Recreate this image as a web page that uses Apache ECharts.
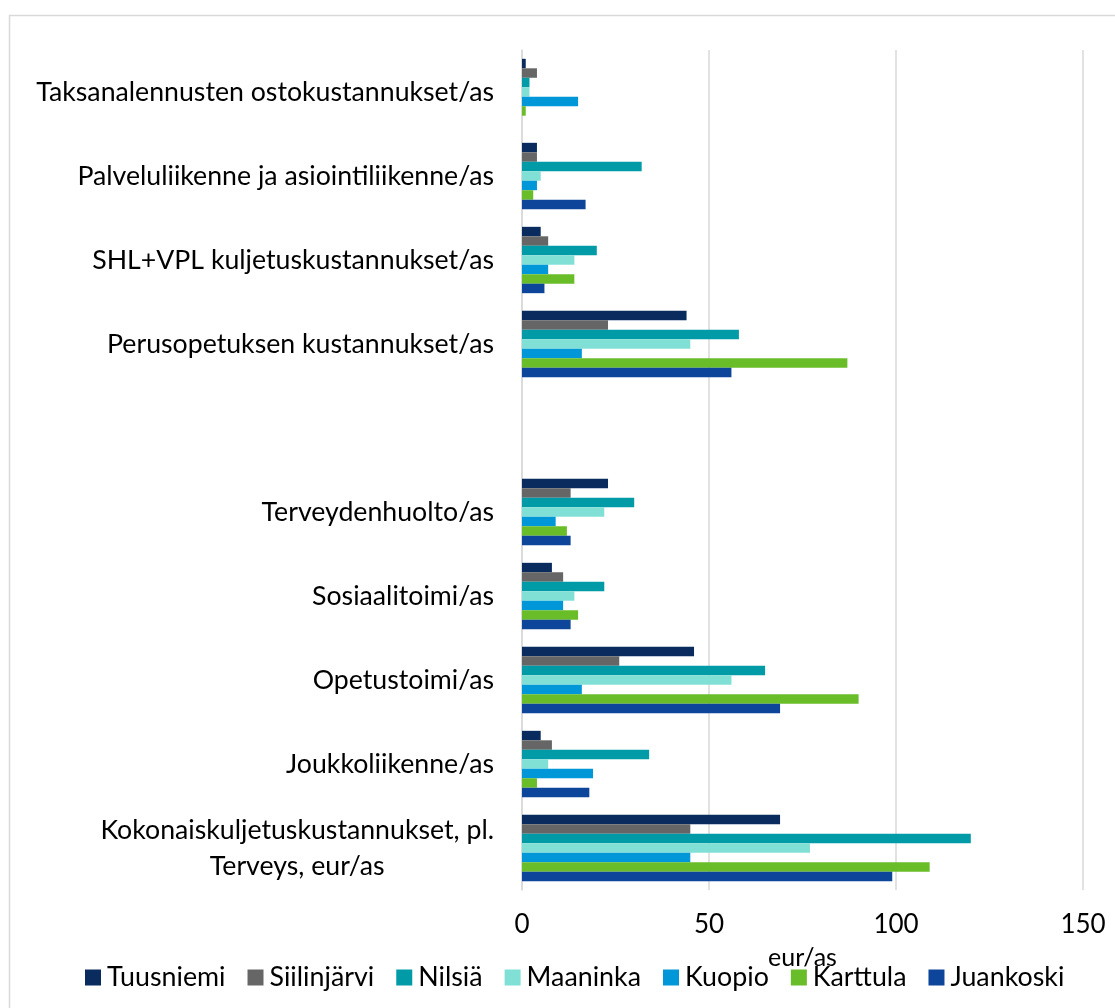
<!DOCTYPE html>
<html>
<head>
<meta charset="utf-8">
<script src="https://cdn.jsdelivr.net/npm/echarts@6/dist/echarts.min.js"></script>
<style>
html,body{margin:0;padding:0;background:#fff;}
#chart{width:1115px;height:1008px;}
</style>
</head>
<body>
<div id="chart"></div>
<script>
// Categories listed top to bottom (as shown in the chart)
const categories = [
  'Taksanalennusten ostokustannukset/as',
  'Palveluliikenne ja asiointiliikenne/as',
  'SHL+VPL kuljetuskustannukset/as',
  'Perusopetuksen kustannukset/as',
  '',
  'Terveydenhuolto/as',
  'Sosiaalitoimi/as',
  'Opetustoimi/as',
  'Joukkoliikenne/as',
  'Kokonaiskuljetuskustannukset, pl.\nTerveys, eur/as'
];
const seriesNames = ['Tuusniemi', 'Siilinjärvi', 'Nilsiä', 'Maaninka', 'Kuopio', 'Karttula', 'Juankoski'];
const tuusniemi   = [1, 4, 5, 44, null, 23, 8, 46, 5, 69];
const siilinjarvi = [4, 4, 7, 23, null, 13, 11, 26, 8, 45];
const nilsia      = [2, 32, 20, 58, null, 30, 22, 65, 34, 120];
const maaninka    = [2, 5, 14, 45, null, 22, 14, 56, 7, 77];
const kuopio      = [15, 4, 7, 16, null, 9, 11, 16, 19, 45];
const karttula    = [1, 3, 14, 87, null, 12, 15, 90, 4, 109];
const juankoski   = [0, 17, 6, 56, null, 13, 13, 69, 18, 99];
const xTicks = [0, 50, 100, 150];
const axisTitle = 'eur/as';

const seriesValues = [tuusniemi, siilinjarvi, nilsia, maaninka, kuopio, karttula, juankoski];
const colors = ['#0a2b5e', '#666666', '#009ba6', '#80e0d6', '#0097d8', '#69bd28', '#0c4599'];

const FONT = 'Lato';
const chart = echarts.init(document.getElementById('chart'));
chart.setOption({
  animation: false,
  backgroundColor: '#ffffff',
  color: colors,
  textStyle: { fontFamily: FONT },
  graphic: [{
    type: 'rect',
    shape: { x: 9.5, y: 15.5, width: 1200, height: 1100 },
    style: { fill: 'none', stroke: '#d9d9d9', lineWidth: 1.5 },
    z: -10, silent: true
  }],
  grid: { left: 522, right: 32, top: 50, bottom: 118, containLabel: false },
  legend: {
    data: seriesNames,
    bottom: 12,
    left: 80,
    itemWidth: 16,
    itemHeight: 16,
    itemGap: 22,
    icon: 'rect',
    textStyle: { fontFamily: FONT, fontSize: 26.8, color: '#000', padding: [0, 0, 0, 1] }
  },
  xAxis: {
    type: 'value',
    min: xTicks[0],
    max: xTicks[xTicks.length - 1],
    interval: xTicks[1] - xTicks[0],
    name: axisTitle,
    nameLocation: 'middle',
    nameGap: 55,
    nameTextStyle: { fontFamily: FONT, fontSize: 25, color: '#000' },
    axisLine: { show: false },
    axisTick: { show: false },
    axisLabel: { fontFamily: FONT, fontSize: 26, color: '#000', margin: 22 },
    splitLine: { show: true, lineStyle: { color: '#d9d9d9', width: 1.5 } }
  },
  yAxis: {
    type: 'category',
    inverse: true,
    data: categories,
    axisLine: { show: true, lineStyle: { color: '#d9d9d9', width: 1.5 } },
    axisTick: { show: false },
    axisLabel: {
      fontFamily: FONT, fontSize: 26.7, color: '#000', margin: 28,
      lineHeight: 36,
      formatter: function (v) {
        if (v.indexOf('\n') >= 0) {
          return v.split('\n').map(function (s) { return '{c|' + s + '}'; }).join('\n');
        }
        return v;
      },
      rich: { c: { align: 'center', fontFamily: FONT, fontSize: 26.7, color: '#000', lineHeight: 36 } }
    }
  },
  series: seriesNames.map(function (name, i) {
    return {
      name: name,
      type: 'bar',
      data: seriesValues[i],
      barGap: '0%',
      barCategoryGap: '21%',
      itemStyle: { color: colors[i] }
    };
  })
});
</script>
</body>
</html>
